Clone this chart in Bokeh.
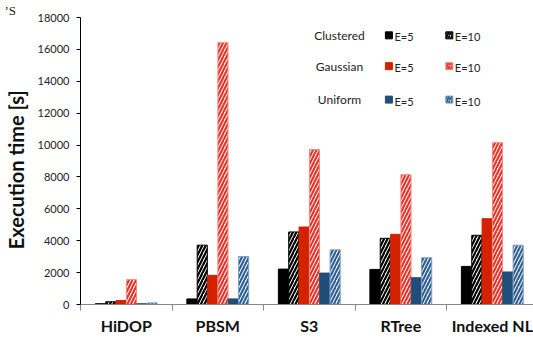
import math
from bokeh.plotting import figure
from bokeh.models import FixedTicker, Title, ColumnDataSource
from bokeh.core.properties import value
from bokeh.embed import file_html
from bokeh.resources import INLINE

categories = ["HiDOP", "PBSM", "S3", "RTree", "Indexed NL"]
clustered_e5 = [50, 350, 2220, 2200, 2390]
clustered_e10 = [170, 3720, 4550, 4150, 4340]
gaussian_e5 = [250, 1830, 4860, 4400, 5380]
gaussian_e10 = [1560, 16420, 9720, 8140, 10150]
uniform_e5 = [50, 350, 1970, 1680, 2040]
uniform_e10 = [100, 3010, 3430, 2930, 3720]
y_ticks = [0, 2000, 4000, 6000, 8000, 10000, 12000, 14000, 16000, 18000]

series = [
    ("Clustered", "E=5", clustered_e5, "#000000", None, "#000000"),
    ("Clustered", "E=10", clustered_e10, "white", "#000000", "#000000"),
    ("Gaussian", "E=5", gaussian_e5, "#D22200", None, "#D22200"),
    ("Gaussian", "E=10", gaussian_e10, "white", "#E8342A", "#F08A80"),
    ("Uniform", "E=5", uniform_e5, "#1F4E79", None, "#1F4E79"),
    ("Uniform", "E=10", uniform_e10, "white", "#2E6096", "#7F9FC0"),
]

FONT = "Lato"
W, H = 533, 338
p = figure(width=W, height=H, x_range=(0, 4.95), y_range=(0, 18000),
           output_backend="svg", toolbar_location=None,
           min_border_left=80, min_border_right=0, min_border_top=15, min_border_bottom=34)
p.outline_line_color = None
p.xgrid.grid_line_color = None
p.ygrid.grid_line_color = None
p.background_fill_color = "white"

p.title = Title(text="\u2019S", align="left", offset=-76, standoff=0,
                text_font="Liberation Serif", text_font_size="13px", text_font_style="normal",
                text_color="#222222")

bw = 0.113
n = len(series)
for j, (grp, lab, vals, fill, hatch, line) in enumerate(series):
    xs = [i + 0.5 + (j - (n - 1) / 2) * bw for i in range(len(categories))]
    src = ColumnDataSource(dict(x=xs, top=vals))
    kw = dict(x="x", top="top", width=bw * 0.98, bottom=0, source=src,
              fill_color=fill, line_color=line, line_width=1)
    if hatch:
        kw.update(hatch_pattern="right_diagonal_line", hatch_color=hatch,
                  hatch_scale=7, hatch_weight=2.2)
    p.vbar(**kw)

# legend (text block inside the plot)
groups = ["Clustered", "Gaussian", "Uniform"]
row_y = [16880, 14950, 12850]
gx, s5x, t5x, s10x, t10x = 2.83, 3.37, 3.43, 4.03, 4.09
p.text(x=[gx] * 3, y=row_y, text=groups, text_font=value(FONT), text_font_size="12px",
       text_align="center", text_baseline="middle", text_color="#222222")
for k, g in enumerate(groups):
    s5 = series[2 * k]
    s10 = series[2 * k + 1]
    p.rect(x=[s5x], y=[row_y[k]], width=7, height=7, width_units="screen", height_units="screen",
           fill_color=s5[3], line_color=s5[5])
    p.rect(x=[s10x], y=[row_y[k]], width=7, height=7, width_units="screen", height_units="screen",
           fill_color="white", line_color=s10[5], hatch_pattern="right_diagonal_line",
           hatch_color=s10[4], hatch_scale=5, hatch_weight=2)
    p.text(x=[t5x], y=[row_y[k] - 100], text=[s5[1]], text_font=value(FONT), text_font_size="11px",
           text_align="left", text_baseline="middle", text_color="#222222")
    p.text(x=[t10x], y=[row_y[k] - 100], text=[s10[1]], text_font=value(FONT), text_font_size="11px",
           text_align="left", text_baseline="middle", text_color="#222222")

# y axis
ya = p.yaxis[0]
ya.ticker = FixedTicker(ticks=y_ticks)
ya.axis_line_color = "#000000"
ya.major_tick_line_color = "#000000"
ya.major_tick_out = 4
ya.major_tick_in = 0
ya.minor_tick_line_color = None
ya.major_label_text_font = FONT
ya.major_label_text_font_size = "11px"
ya.major_label_text_color = "#222222"
ya.major_label_standoff = 7
ya.axis_label = "Execution time [s]\u2003\u2009"
ya.axis_label_text_font = FONT
ya.axis_label_text_font_size = "20px"
ya.axis_label_text_font_style = "bold"
ya.axis_label_text_color = "#111111"
ya.axis_label_standoff = 7

# x axis
xa = p.xaxis[0]
xa.ticker = FixedTicker(ticks=[i + 0.5 for i in range(len(categories))],
                        minor_ticks=list(range(len(categories) + 1)))
xa.major_label_overrides = {i + 0.5: c for i, c in enumerate(categories)}
xa.axis_line_color = "#888888"
xa.major_tick_line_color = None
xa.major_tick_out = 6
xa.minor_tick_line_color = "#888888"
xa.minor_tick_out = 6
xa.minor_tick_in = 0
xa.major_label_text_font = FONT
xa.major_label_text_font_size = "16px"
xa.major_label_text_font_style = "bold"
xa.major_label_text_color = "#111111"
xa.major_label_standoff = 5

open("out.html", "w").write(file_html(p, INLINE))
